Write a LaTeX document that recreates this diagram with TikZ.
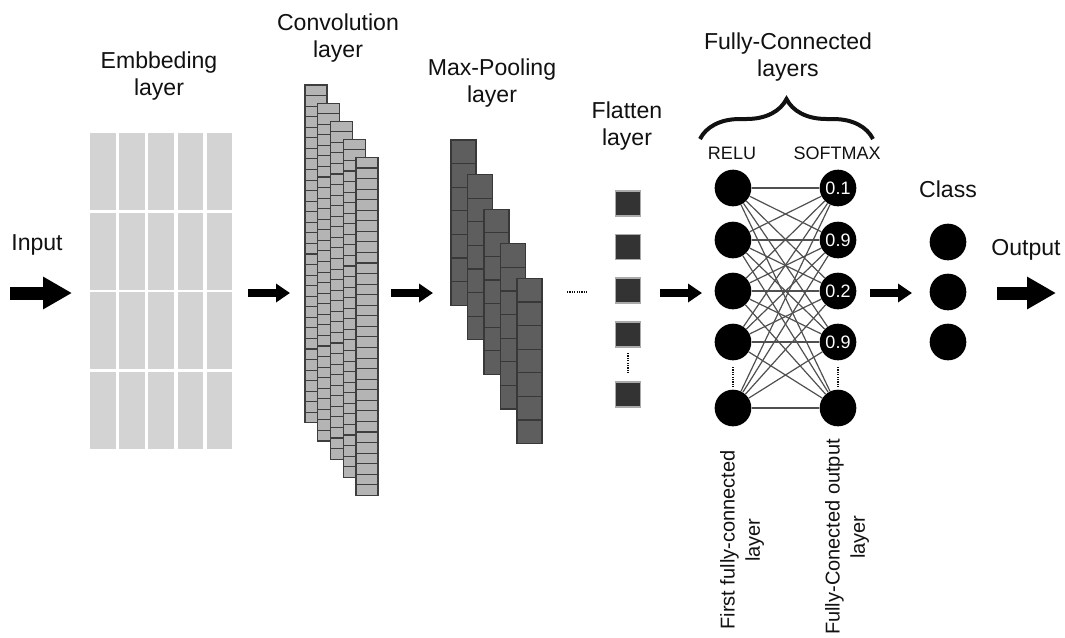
\documentclass[tikz,border=0pt]{standalone}
\usepackage{fontspec}
\setmainfont{Liberation Sans}
\usetikzlibrary{arrows.meta,decorations.pathreplacing}
\definecolor{embgray}{HTML}{D3D3D3}
\definecolor{convgray}{HTML}{B4B4B4}
\definecolor{convedge}{HTML}{3E3E3E}
\definecolor{poolgray}{HTML}{5E5E5E}
\definecolor{pooledge}{HTML}{383838}
\definecolor{flatgray}{HTML}{333333}
\definecolor{flatedge}{HTML}{AAAAAA}
\definecolor{linkgray}{HTML}{505050}
\definecolor{txt}{HTML}{111111}
\begin{document}
\begin{tikzpicture}[x=0.75pt,y=-0.75pt,
  title/.style={font=\fontsize{17.3}{20}\selectfont, align=center, inner sep=0pt, text=txt},
  smalltxt/.style={font=\fontsize{13.5}{16}\selectfont, inner sep=0pt, text=txt},
  vert/.style={font=\fontsize{15}{19}\selectfont, align=center, inner sep=0pt, rotate=90, text=txt},
  neuron/.style={circle, fill=black, minimum size=27.5pt, inner sep=0pt, text=white, font=\fontsize{13.5}{16}\selectfont},
  embcell/.style={fill=embgray},
  convcell/.style={fill=convgray, draw=convedge, line width=0.8pt},
  poolcell/.style={fill=poolgray, draw=pooledge, line width=0.8pt},
  flatcell/.style={rectangle, fill=flatgray, draw=flatedge, line width=0.8pt, minimum size=18.75pt, inner sep=0pt},
  smallarrow/.style={line width=6pt, -{Triangle[length=10.5pt,width=13.5pt]}},
  bigarrow/.style={line width=9.75pt, -{Triangle[length=21.75pt,width=23pt]}},
  dotline/.style={line width=1.8pt, dash pattern=on 0.9pt off 0.9pt, draw=txt},
  link/.style={draw=linkgray, line width=0.9pt},
]
\useasboundingbox (0,0) rectangle (1065,637);
\fill[white] (0,0) rectangle (1065,637);

% ---- titles
\node[title] (tIn) at (37,245) {Input};
\node[title, anchor=north] (tEmb) at (159,52) {Embbeding\\layer};
\node[title, anchor=north] (tConv) at (338,14) {Convolution\\layer};
\node[title, anchor=north] (tPool) at (492,59) {Max-Pooling\\layer};
\node[title, anchor=north] (tFlat) at (627,102) {Flatten\\layer};
\node[title, anchor=north] (tFC) at (788,33) {Fully-Connected\\layers};
\node[title] (tClass) at (948,189) {Class};
\node[title] (tOut) at (1026,250) {Output};
\node[smalltxt] (tRelu) at (732,153) {RELU};
\node[smalltxt] (tSoft) at (837,153) {SOFTMAX};

% ---- brace
\coordinate (bL) at (700,139);
\coordinate (bR) at (873,139);
\draw[decorate, decoration={brace, amplitude=30pt}, line width=3pt, draw=txt] (bL) -- (bR);

% ---- embedding layer
\foreach \c in {0,...,4}
  \foreach \r in {0,...,3}
    \fill[embcell] ({90+29.2*\c},{133+79.6*\r}) rectangle ++(25.5,77);

% ---- convolution layer
\foreach \i in {0,...,4}
  \foreach \k in {0,...,31}
    \filldraw[convcell] ({305+12.75*\i},{85+18.1*\i+10.56*\k}) rectangle ++(22,10.56);

% ---- max pooling layer
\foreach \i in {0,...,4}
  \foreach \k in {0,...,6}
    \filldraw[poolcell] ({451+16.5*\i},{140+34.6*\i+23.6*\k}) rectangle ++(25,23.6);

% ---- flatten layer
\node[flatcell] (f1) at (628,203.5) {};
\node[flatcell] (f2) at (628,247) {};
\node[flatcell] (f3) at (628,290.5) {};
\node[flatcell] (f4) at (628,334.5) {};
\node[flatcell] (f5) at (628,394.5) {};
\coordinate (fd1) at (628,353); \coordinate (fd2) at (628,373);
\draw[dotline] (fd1) -- (fd2);
\coordinate (hd1) at (567,292);
\coordinate (hd2) at (588,292);
\draw[dotline] (hd1) -- (hd2);

% ---- fully connected
\foreach \n/\y in {1/188,2/240,3/291,4/342,5/408}
  \node[neuron] (l\n) at (733,\y) {};
\node[neuron] (r1) at (838,188) {0.1};
\node[neuron] (r2) at (838,240) {0.9};
\node[neuron] (r3) at (838,291) {0.2};
\node[neuron] (r4) at (838,342) {0.9};
\node[neuron] (r5) at (838,408) {};
\foreach \i in {1,...,5}
  \foreach \j in {1,...,5}
    \draw[link] (l\i) -- (r\j);
\coordinate (ld1) at (733,367); \coordinate (ld2) at (733,387);
\coordinate (rd1) at (838,367); \coordinate (rd2) at (838,387);
\draw[dotline] (ld1) -- (ld2);
\draw[dotline] (rd1) -- (rd2);

% ---- class
\node[neuron] (c1) at (948,242) {};
\node[neuron] (c2) at (948,292) {};
\node[neuron] (c3) at (948,342) {};

% ---- vertical labels
\node[vert] (vL) at (742,540) {First fully-connected\\layer};
\node[vert] (vR) at (847,537) {Fully-Conected output\\layer};

% ---- arrows
\coordinate (a0s) at (10,293);  \coordinate (a0e) at (72,293);
\coordinate (a1s) at (248,293); \coordinate (a1e) at (290,293);
\coordinate (a2s) at (391,293); \coordinate (a2e) at (433,293);
\coordinate (a3s) at (660,293); \coordinate (a3e) at (702,293);
\coordinate (a4s) at (870,293); \coordinate (a4e) at (912,293);
\coordinate (a5s) at (997,293); \coordinate (a5e) at (1056,293);
\draw[bigarrow] (a0s) -- (a0e);
\draw[smallarrow] (a1s) -- (a1e);
\draw[smallarrow] (a2s) -- (a2e);
\draw[smallarrow] (a3s) -- (a3e);
\draw[smallarrow] (a4s) -- (a4e);
\draw[bigarrow] (a5s) -- (a5e);
\end{tikzpicture}
\end{document}
